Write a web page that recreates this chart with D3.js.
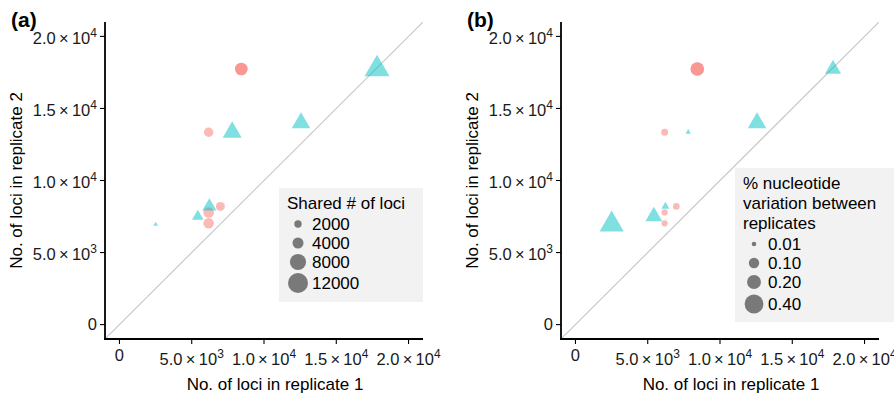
<!DOCTYPE html>
<html>
<head>
<meta charset="utf-8">
<script src="https://cdn.jsdelivr.net/npm/d3@7"></script>
<style>
  body { margin: 0; background: #fff; }
  svg { display: block; font-family: "Liberation Sans", Arial, sans-serif; }
</style>
</head>
<body>
<div id="chart"></div>
<script>
// Data.
const dataset = ["set1", "set1", "set1", "set1", "set1", "set1",
                 "set2", "set2", "set2", "set2", "set2", "set2"];
const rep1 = [8430, 8430, 6170, 6980, 6170, 6170, 7800, 12560, 17820, 6220, 5420, 2505];
const rep2 = [17743, 17743, 13347, 8200, 7780, 7028, 13350, 14000, 17730, 8200, 7510, 6945];
const sharedLoci = [5100, 5100, 3000, 2800, 3700, 3700, 6270, 6000, 10470, 3750, 2600, 600];
const variation = [0.19, 0.19, 0.036, 0.031, 0.026, 0.026, 0.006, 0.195, 0.142, 0.023, 0.157, 0.36];

const axisTicks = [0, 5000, 10000, 15000, 20000];
const tickText = [["0", ""], ["5.0", "3"], ["1.0", "4"], ["1.5", "4"], ["2.0", "4"]];

const sharedLegend = [2000, 4000, 8000, 12000];
const sharedLegendText = ["2000", "4000", "8000", "12000"];
const variationLegend = [0.01, 0.1, 0.2, 0.4];
const variationLegendText = ["0.01", "0.10", "0.20", "0.40"];

const points = rep1.map((d, i) => ({
  set: dataset[i], rep1: d, rep2: rep2[i],
  shared: sharedLoci[i], variation: variation[i]
}));

const width = 894, height = 397;
const colors = { set1: "#F8766D", set2: "#00BFC4" };

const svg = d3.select("#chart").append("svg")
  .attr("width", width)
  .attr("height", height);

/**
 * Draws one panel of the figure.
 */
function drawPanel(opts) {
  const { left, label, sizeKey, radius, legend } = opts;
  const top = 22, bottom = 339, right = left + 318;

  const x = d3.scaleLinear().domain([-1000, 21000]).range([left, right]);
  const y = d3.scaleLinear().domain([-1000, 21000]).range([bottom, top]);

  const g = svg.append("g");

  // Panel label.
  g.append("text")
    .attr("x", left - 94)
    .attr("y", 27)
    .attr("font-size", 21)
    .attr("font-weight", "bold")
    .text(label);

  // Clip for the diagonal.
  const clipId = "clip-" + label.replace(/\W/g, "");
  g.append("clipPath").attr("id", clipId)
    .append("rect")
    .attr("x", left).attr("y", top)
    .attr("width", right - left).attr("height", bottom - top);

  // y = x reference line.
  g.append("line")
    .attr("clip-path", `url(#${clipId})`)
    .attr("x1", x(-1000)).attr("y1", y(-1000))
    .attr("x2", x(21000)).attr("y2", y(21000))
    .attr("stroke", "#c6c6c6")
    .attr("stroke-width", 1.1);

  // Points.
  g.selectAll("path.pt")
    .data(points)
    .join("path")
    .attr("class", "pt")
    .attr("transform", (d) => `translate(${x(d.rep1)},${y(d.rep2)})`)
    .attr("d", (d) => {
      const r = radius(d[sizeKey]);
      const type = d.set === "set1" ? d3.symbolCircle : d3.symbolTriangle;
      return d3.symbol().type(type).size(Math.PI * r * r)();
    })
    .attr("fill", (d) => colors[d.set])
    .attr("fill-opacity", 0.5);

  // Axes lines.
  g.append("line")
    .attr("x1", left).attr("x2", left)
    .attr("y1", top).attr("y2", bottom + 1)
    .attr("stroke", "#000").attr("stroke-width", 1.8);
  g.append("line")
    .attr("x1", left - 1).attr("x2", right)
    .attr("y1", bottom).attr("y2", bottom)
    .attr("stroke", "#000").attr("stroke-width", 1.8);

  // Tick marks.
  g.selectAll("line.ytick").data(axisTicks).join("line")
    .attr("x1", left - 5).attr("x2", left)
    .attr("y1", (d) => y(d)).attr("y2", (d) => y(d))
    .attr("stroke", "#000").attr("stroke-width", 1.1);
  g.selectAll("line.xtick").data(axisTicks).join("line")
    .attr("y1", bottom).attr("y2", bottom + 5)
    .attr("x1", (d) => x(d)).attr("x2", (d) => x(d))
    .attr("stroke", "#000").attr("stroke-width", 1.1);

  // Tick labels with superscripts.
  function writeLabel(sel, i) {
    const [base, exp] = tickText[i];
    if (!exp) {
      sel.text(base);
      return;
    }
    sel.append("tspan").text(base + "\u2009×\u200910");
    sel.append("tspan").attr("dy", -7).attr("font-size", 12).text(exp);
  }

  axisTicks.forEach((t, i) => {
    const yl = g.append("text")
      .attr("x", left - 8)
      .attr("y", y(t) + (tickText[i][1] ? 7.5 : 5.8))
      .attr("text-anchor", "end")
      .attr("font-size", 16.5)
      .attr("fill", "#1a1a1a");
    writeLabel(yl, i);

    const xl = g.append("text")
      .attr("x", x(t))
      .attr("y", tickText[i][1] ? 365 : 361)
      .attr("text-anchor", "middle")
      .attr("font-size", 16.5)
      .attr("fill", "#1a1a1a");
    writeLabel(xl, i);
  });

  // Axis titles.
  g.append("text")
    .attr("x", (left + right) / 2 + 11)
    .attr("y", 390)
    .attr("text-anchor", "middle")
    .attr("font-size", 17)
    .text("No. of loci in replicate 1");
  g.append("text")
    .attr("transform", `translate(${left - 83},${(top + bottom) / 2}) rotate(-90)`)
    .attr("text-anchor", "middle")
    .attr("font-size", 17)
    .text("No. of loci in replicate 2");

  // Legend.
  const lg = g.append("g");
  lg.append("rect")
    .attr("x", legend.x).attr("y", legend.y)
    .attr("width", legend.w).attr("height", legend.h)
    .attr("fill", "#f2f2f2");
  legend.title.forEach((line, i) => {
    lg.append("text")
      .attr("x", legend.x + 8)
      .attr("y", legend.y + 21 + i * 20)
      .attr("font-size", 17)
      .text(line);
  });
  legend.values.forEach((v, i) => {
    const cy = legend.keyY[i];
    lg.append("circle")
      .attr("cx", legend.x + 19)
      .attr("cy", cy)
      .attr("r", radius(v))
      .attr("fill", "#000")
      .attr("fill-opacity", 0.5);
    lg.append("text")
      .attr("x", legend.x + 33)
      .attr("y", cy + 6)
      .attr("font-size", 17)
      .text(legend.labels[i]);
  });
}

drawPanel({
  left: 105,
  label: "(a)",
  sizeKey: "shared",
  radius: d3.scaleSqrt().domain([2000, 12000]).range([3.7, 10]),
  legend: {
    x: 279, y: 188, w: 144, h: 114,
    title: ["Shared # of loci"],
    values: sharedLegend,
    labels: sharedLegendText,
    keyY: [224, 243, 262, 283]
  }
});

drawPanel({
  left: 561,
  label: "(b)",
  sizeKey: "variation",
  radius: d3.scaleSqrt().domain([0.01, 0.4]).range([2.3, 9.4]),
  legend: {
    x: 735, y: 168, w: 159, h: 154,
    title: ["% nucleotide", "variation between", "replicates"],
    values: variationLegend,
    labels: variationLegendText,
    keyY: [244, 263, 282, 304]
  }
});
</script>
</body>
</html>
